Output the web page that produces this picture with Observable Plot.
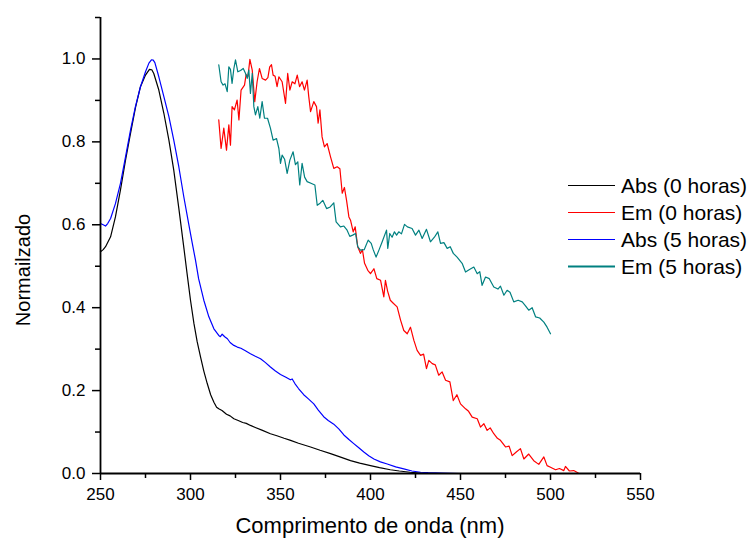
<!DOCTYPE html>
<html>
<head>
<meta charset="utf-8">
<script src="https://cdn.jsdelivr.net/npm/d3@7"></script>
<script src="https://cdn.jsdelivr.net/npm/@observablehq/plot@0.6"></script>
<style>
  html, body { margin: 0; padding: 0; background: #fff; }
  #chart { width: 752px; height: 541px; }
</style>
</head>
<body>
<div id="chart"></div>
<script>
// ---- data ----
const seriesNames = ["Abs (0 horas)", "Em (0 horas)", "Abs (5 horas)", "Em (5 horas)"];
const seriesColors = ["#000000", "#ff0000", "#0000ff", "#008080"];

const xTicks = [250, 300, 350, 400, 450, 500, 550];
const xMinorTicks = [275, 325, 375, 425, 475, 525];
const yTicks = [0, 0.2, 0.4, 0.6, 0.8, 1.0];
const yMinorTicks = [0.1, 0.3, 0.5, 0.7, 0.9, 1.1];

const xLabel = "Comprimento de onda (nm)";
const yLabel = "Normailzado";

const absX0 = [250,251.5,252.8,255.6,258.3,261.1,263.9,266.7,269.4,272.2,275,277.2,278.5,279.6,282.4,285.2,288,290.7,293.5,296.3,298.1,300,301.9,303.7,305.6,307.4,309.3,311.2,313,314.5,315.7,317.5,320,322,324.1,326.5,329,331,333.3,336,340,344.4,348,352,355.6,360,366.7,372,377.8,383,388.9,394,400,405,411,416,422,428,435];
const absY0 = [.535,.540,.547,.571,.619,.684,.756,.821,.882,.933,.961,.975,.974,.965,.925,.869,.804,.732,.640,.545,.482,.418,.362,.318,.281,.247,.217,.190,.172,.160,.156,.152,.143,.139,.132,.128,.123,.121,.116,.111,.104,.096,.091,.085,.080,.073,.064,.056,.048,.040,.031,.025,.019,.014,.009,.006,.003,.001,0];

const emX0 = [315.7,317,318.5,320,321.3,322.2,323.1,324.4,325.9,326.9,328.1,330,330.9,331.9,333,334.3,335.7,337,338.3,339.8,341.7,343,344,345,345.9,347,348.1,349.1,350.9,352.8,354,355.2,356.5,358,359.3,360.6,362,363.3,364.8,365.7,366.7,368.5,370,370.9,371.9,373.1,374.4,375.9,377.8,379.6,381.5,383,384.3,385.5,386.7,388,388.9,390.4,391.5,392.9,394.4,395.5,396.7,398.5,400,401.9,403.5,405.6,407.4,408.3,409.5,411,412.8,414.8,416.7,418.5,420.4,422.2,424.1,425.9,427.8,429.5,431.1,432.4,434.3,436,437.9,439.8,441.7,444.1,446,448,450,452.8,454.5,456.5,459.3,461.1,463,464.8,466.5,468.5,470.5,472.2,475,477,478.7,481,483.3,485.2,487.9,490.7,493.5,496.3,498.1,500,502.8,505,507.4,508.3,510.5,512.9,515.4];
const emY0 = [.853,.784,.833,.780,.841,.792,.885,.877,.901,.853,.925,.937,.962,.957,.999,.973,.897,.945,.977,.953,.949,.955,.981,.986,.961,.958,.933,.957,.945,.893,.965,.925,.945,.940,.961,.933,.945,.925,.949,.909,.873,.897,.885,.845,.877,.812,.788,.796,.764,.736,.740,.735,.676,.690,.659,.619,.611,.583,.595,.547,.531,.540,.507,.490,.482,.494,.470,.466,.426,.466,.440,.418,.410,.402,.370,.345,.337,.353,.321,.297,.285,.288,.253,.273,.265,.262,.237,.245,.225,.221,.176,.190,.168,.156,.150,.136,.132,.112,.120,.104,.110,.096,.085,.080,.064,.066,.043,.052,.060,.035,.047,.031,.022,.040,.019,.015,.009,.012,.007,.017,.006,.007,.001];

const absX5 = [250,251.5,252.8,254,255.6,258.3,261.1,263.9,266.7,269.4,272.2,275,276.9,278.3,279.3,280.2,282.4,285.2,288,290.7,293.5,296.3,299.1,301,302.8,304.5,307.4,310.2,313,315.7,316.6,317.6,319,320.5,322,324.1,326,328,330.5,333.3,336,338.9,341.5,344.4,347,350,353,355.5,356.5,358,360,362.9,365.5,368.5,371,374,376.5,379.6,382.5,385.2,388,390.7,393.5,396.3,399,401.9,405.5,409.3,414,418.5,423,427.8,432,440,450];
const absY5 = [.603,.600,.597,.603,.615,.651,.700,.764,.829,.885,.933,.969,.990,.998,.997,.991,.957,.909,.861,.804,.740,.667,.600,.555,.514,.470,.418,.378,.349,.333,.330,.336,.330,.325,.316,.309,.305,.302,.296,.289,.283,.277,.268,.257,.248,.239,.232,.226,.228,.217,.205,.190,.180,.168,.153,.137,.128,.119,.107,.093,.082,.072,.062,.052,.043,.035,.028,.023,.016,.011,.006,.003,.002,.001,0];

const emX5 = [315.7,317,318.1,319.2,320.4,321.3,322.2,323.1,324.1,325,326.3,327.8,329.3,330.6,331.5,332.4,333.3,334.3,335.2,336.1,337.4,338.5,339.8,341.1,342.8,344.4,345.9,347.8,349.1,350,350.9,352.3,353.7,355.2,357,358.3,359.6,360.7,362,363.4,364.8,366.9,369.1,370.4,372,373.5,375.6,377.6,379.6,380.9,383.3,385.2,387,388.5,390.1,391.7,392.9,394.4,396.5,398.7,400.4,401.5,403.1,404.8,406.5,408.9,409.6,410.7,412,413.3,414.5,415.7,417.2,418.9,420.5,423.1,425,426.9,428.7,431.1,433.3,435.5,437.4,438.9,440.8,442.6,444.3,446,448.1,450.9,452.8,455,457.4,459.3,460.7,462,463.9,466,468.5,470.8,472.2,474.1,475.9,477.5,479.6,482,484.3,486,487.9,489.8,491.7,494,496.3,498.1,500];
const emY5 = [.986,.945,.937,.940,.921,.981,.975,.941,.977,.998,.969,.972,.977,.965,.953,.973,.917,.965,.885,.865,.885,.857,.897,.857,.857,.833,.804,.808,.784,.748,.768,.758,.724,.756,.776,.745,.752,.696,.748,.715,.704,.700,.696,.647,.652,.659,.639,.643,.653,.607,.595,.597,.587,.572,.575,.579,.547,.539,.540,.563,.555,.540,.522,.540,.559,.587,.543,.579,.570,.583,.575,.583,.578,.601,.595,.591,.575,.587,.567,.589,.559,.570,.583,.555,.557,.543,.547,.531,.522,.507,.486,.492,.498,.482,.487,.454,.474,.470,.450,.445,.452,.430,.442,.437,.414,.418,.414,.405,.394,.400,.378,.375,.365,.353,.337];

// ---- build tables ----
const toRows = (xs, ys) => xs.map((x, i) => ({x, y: ys[i]}));
const series = [
  toRows(absX0, absY0),
  toRows(emX0, emY0),
  toRows(absX5, absY5),
  toRows(emX5, emY5)
];

const font = "'Liberation Sans', Arial, Helvetica, sans-serif";

const chart = Plot.plot({
  width: 752,
  height: 541,
  marginLeft: 100,
  marginRight: 112,
  marginTop: 17,
  marginBottom: 68,
  style: {fontFamily: font, fontSize: "17px", color: "#000", background: "#fff"},
  x: {domain: [250, 550]},
  y: {domain: [0, 1.1]},
  marks: [
    Plot.axisY({ticks: yTicks, tickSize: 8, tickPadding: 7, tickFormat: d3.format(".1f"), label: null, strokeWidth: 1.5, fontSize: 17}),
    Plot.axisY({ticks: yMinorTicks, tickSize: 5, tickFormat: () => "", label: null, strokeWidth: 1.5}),
    Plot.axisX({ticks: xTicks, tickSize: 7, tickPadding: 7, tickFormat: d => String(d), label: null, strokeWidth: 1.5, fontSize: 17}),
    Plot.axisX({ticks: xMinorTicks, tickSize: 5, tickFormat: () => "", label: null, strokeWidth: 1.5}),
    ...series.map((data, i) => Plot.line(data, {x: "x", y: "y", stroke: seriesColors[i], strokeWidth: 1.2})),
    Plot.ruleX([250], {stroke: "#000", strokeWidth: 1.8}),
    Plot.ruleY([0], {stroke: "#000", strokeWidth: 1.8})
  ]
});

document.getElementById("chart").appendChild(chart);

// ---- titles and legend ----
const svg = d3.select(chart);
svg.append("text")
  .attr("x", 370).attr("y", 525)
  .attr("text-anchor", "middle").attr("dominant-baseline", "central")
  .style("font-family", font).style("font-size", "22px").attr("fill", "#000")
  .text(xLabel);
svg.append("text")
  .attr("transform", "translate(23,270) rotate(-90)")
  .attr("text-anchor", "middle").attr("dominant-baseline", "central")
  .style("font-family", font).style("font-size", "20px").attr("fill", "#000")
  .text(yLabel);

const legendY = [185.5, 212.5, 239.5, 266.5];
const lg = svg.append("g");
seriesNames.forEach((name, i) => {
  lg.append("line")
    .attr("x1", 568).attr("x2", 615)
    .attr("y1", legendY[i]).attr("y2", legendY[i])
    .attr("stroke", seriesColors[i]).attr("stroke-width", i === 3 ? 2 : 1.2);
  lg.append("text")
    .attr("x", 621).attr("y", legendY[i])
    .attr("text-anchor", "start")
    .attr("dominant-baseline", "central")
    .style("font-family", font).style("font-size", "21px").attr("fill", "#000")
    .text(name);
});
</script>
</body>
</html>
